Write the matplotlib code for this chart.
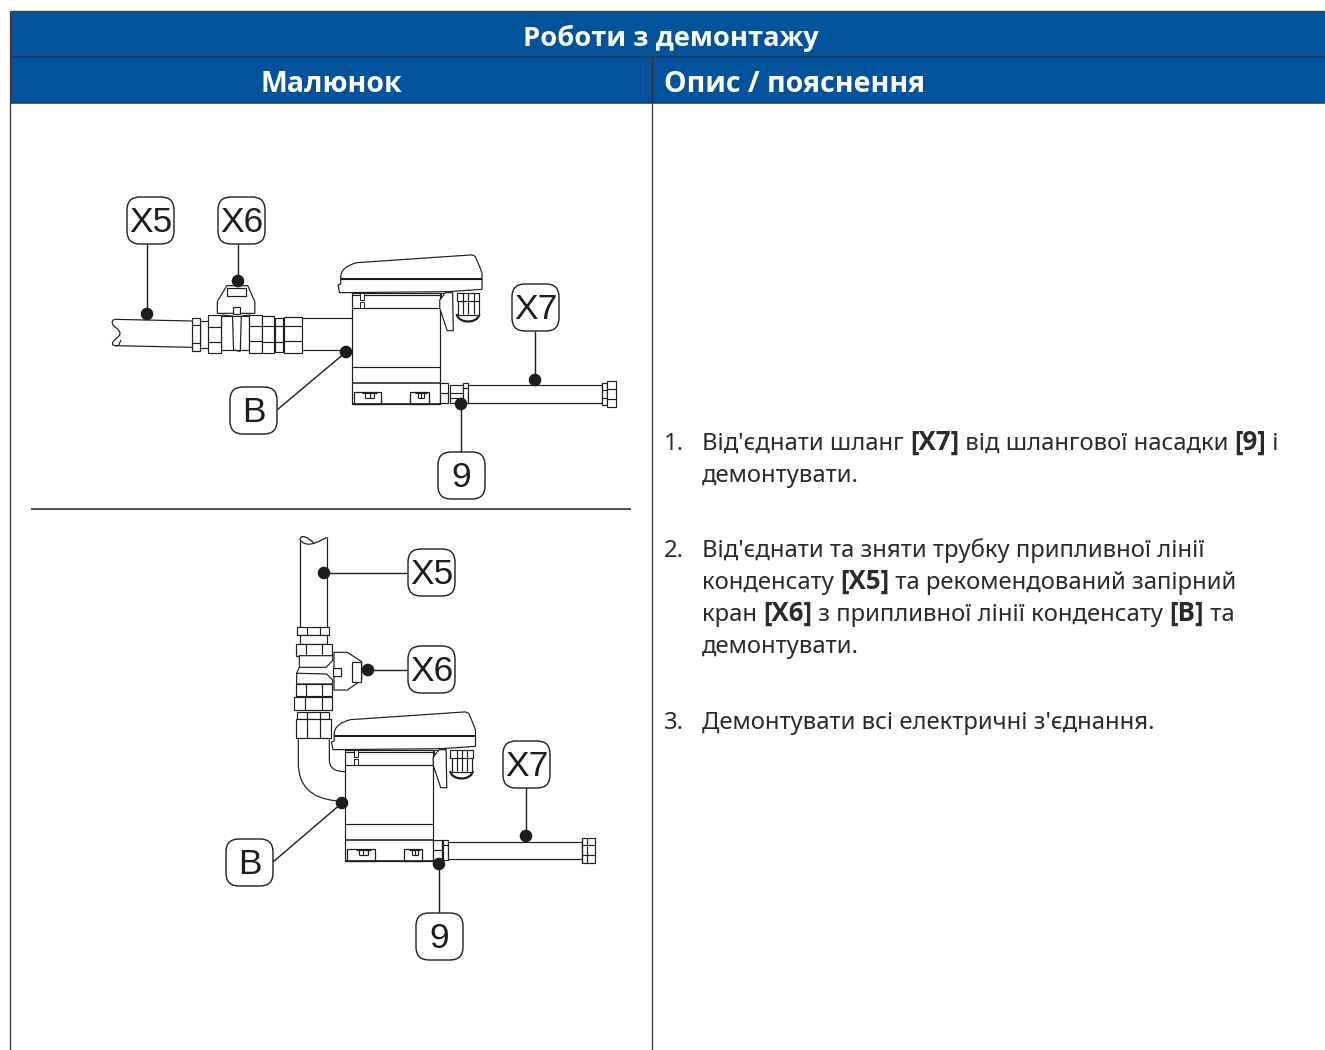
import matplotlib
matplotlib.use("Agg")
import matplotlib.pyplot as plt
from matplotlib import font_manager as fm
from matplotlib.patches import Polygon, Rectangle, FancyBboxPatch, Circle, PathPatch
from matplotlib.path import Path

TITLE = "Роботи з демонтажу"
COL_HEADERS = ["Малюнок", "Опис / пояснення"]
STEPS = [
    ("1.", 450, [("Від'єднати шланг ", 0), ("[X7]", 1), (" від шлангової насадки ", 0), ("[9]", 1), (" і", 0)]),
    (None, 482, [("демонтувати.", 0)]),
    ("2.", 557, [("Від'єднати та зняти трубку припливної лінії", 0)]),
    (None, 589, [("конденсату ", 0), ("[X5]", 1), (" та рекомендований запірний", 0)]),
    (None, 621, [("кран ", 0), ("[X6]", 1), (" з припливної лінії конденсату ", 0), ("[B]", 1), (" та", 0)]),
    (None, 653, [("демонтувати.", 0)]),
    ("3.", 729, [("Демонтувати всі електричні з'єднання.", 0)]),
]
CALLOUTS = [
    ("X5", (150.5, 220.5), (147, 244), (147, 314)),
    ("X6", (241.5, 220.5), (238, 244), (238, 281)),
    ("X7", (535.5, 307.5), (535, 331), (535, 380)),
    ("B", (253.5, 410.5), (277, 410), (346, 352)),
    ("9", (461.5, 475.5), (461, 452), (461, 404)),
    ("X5", (431.5, 572.5), (408, 573), (324, 573)),
    ("X6", (431.5, 669.5), (408, 670), (368, 670)),
    ("X7", (526.5, 764.5), (526, 741), (526, 836)),
    ("B", (249.5, 862.5), (273, 862), (342, 803)),
    ("9", (439.5, 936.5), (439, 913), (439, 864)),
]
BLUE = "#02539B"
NAVY = "#1E3A5F"
INK = "#1d1d1b"
TXT = "#2a2a2a"

BOLD_FONT = "DejaVu Sans"
for name in ["Open Sans", "Lato", "Roboto", "Inter", "Noto Sans", "Liberation Sans"]:
    path = fm.findfont(fm.FontProperties(family=name, weight="bold"), fallback_to_default=True)
    if name.replace(" ", "").lower() in path.replace(" ", "").lower() and "bold" in path.lower():
        BOLD_FONT = name
        break
REG_FONT = "Noto Sans"

fig = plt.figure(figsize=(13.25, 10.5), dpi=100)
ax = fig.add_axes([0, 0, 1, 1])
ax.set_xlim(0, 1325)
ax.set_ylim(1050, 0)
ax.axis("off")
LW = 0.85
M, L, C3, C4 = Path.MOVETO, Path.LINETO, Path.CURVE3, Path.CURVE4


def rect(x0, y0, x1, y1, fc="white", lw=LW, z=3):
    ax.add_patch(Rectangle((x0, y0), x1 - x0, y1 - y0, fc=fc, ec=INK, lw=lw, zorder=z))


def poly(pts, closed=True, fc="white", lw=LW, z=3):
    ax.add_patch(Polygon(pts, closed=closed, fc=fc if closed else "none", ec=INK, lw=lw, zorder=z, joinstyle="round"))


def line(pts, lw=LW, z=3, c=INK):
    ax.plot([p[0] for p in pts], [p[1] for p in pts], color=c, lw=lw, zorder=z, solid_capstyle="butt")


def curve(verts, codes, lw=LW, z=3, fc="none"):
    ax.add_patch(PathPatch(Path(verts, codes), fc=fc, ec=INK, lw=lw, zorder=z))


def z1(x, y):
    return (100 + x / 2.958, 190 + y / 3.0)


def z2(x, y):
    return (210 + x / 3.0, 530 + y / 3.0)


def rz(f, x0, y0, x1, y1, **k):
    a, b = f(x0, y0), f(x1, y1)
    rect(a[0], a[1], b[0], b[1], **k)


def nut_h(f, x0, x1, y0, y1, ya, yb):
    rz(f, x0, y0, x1, y1)
    line([f(x0, ya), f(x1, ya)])
    line([f(x0, yb), f(x1, yb)])


def nut_v(f, x0, x1, y0, y1, xa, xb):
    rz(f, x0, y0, x1, y1)
    line([f(xa, y0), f(xa, y1)])
    line([f(xb, y0), f(xb, y1)])


def device(dx, dy):
    def f(x, y):
        p = z1(x, y)
        return (p[0] + dx, p[1] + dy)
    rz(f, 745, 310, 1005, 643, z=3)
    line([f(745, 315), f(1005, 315)])
    line([f(745, 355), f(1005, 355)])
    line([f(745, 530), f(1005, 530)])
    line([f(745, 580), f(1005, 580)], lw=1.1)
    for x0, x1, y0, y1 in [(770, 782, 310, 330), (770, 782, 337, 353), (1008, 1018, 310, 328), (1008, 1018, 337, 357)]:
        rz(f, x0, y0, x1, y1, lw=0.7)
    poly([f(1005, 355), f(1027, 422), f(1045, 422), f(1043, 308), f(1022, 308), f(1005, 330)], z=4)
    curve([f(1055, 372), f(1060, 402), f(1118, 402), f(1122, 372)], [M, C4, C4, C4], lw=1.6, fc="white")
    rz(f, 1060, 330, 1120, 375, z=3)
    rz(f, 1055, 310, 1122, 332, z=3)
    for x in (1075, 1090, 1105):
        line([f(x, 310), f(x, 372)], z=4)
    curve([f(708, 305), f(704, 285), f(712, 282), f(712, 262), f(712, 230), f(760, 218),
           f(1095, 195), f(1103, 193), f(1110, 200), f(1122, 225), f(1130, 250), f(1130, 265),
           f(1130, 298), f(1030, 305), f(708, 308), f(708, 305)],
          [M, L, L, L, C3, C3, L, C3, C3, C3, C3, C3, L, L, L, L], fc="white", z=5)
    line([f(712, 268), f(1130, 268)], lw=1.5, z=6)
    for x0, x1 in [(750, 832), (918, 972)]:
        rz(f, x0, 605, x1, 643, lw=0.9)
        a = x0 + (x1 - x0) * 0.42
        b = x0 + (x1 - x0) * 0.75
        line([f(a - 8, 610), f(b + 8, 610)])
        for x in (a, (a + b) / 2, b):
            line([f(x, 610), f(x, 625)])
        line([f(a, 625), f(b, 625)])
    line([f(745, 643), f(1005, 643)], lw=1.2, z=4)


# ---------- table frame ----------
ax.add_patch(Rectangle((10, 11), 1315, 92, fc=BLUE, ec="none", zorder=1))
line([(10, 11), (1325, 11)], lw=1.0, c="#444444", z=2)
line([(10, 57), (1325, 57)], lw=1.1, c=NAVY, z=2)
line([(10, 103), (1325, 103)], lw=1.1, c=NAVY, z=2)
line([(10, 11), (10, 1050)], lw=0.9, c="#333333", z=2)
line([(652, 57), (652, 1050)], lw=0.9, c="#333333", z=2)
line([(31, 509), (631, 509)], lw=1.1, c="#222222", z=2)

for x, y, s, ha, size in [(671, 46, TITLE, "center", 19.7), (331, 92, COL_HEADERS[0], "center", 20.5),
                          (664, 92, COL_HEADERS[1], "left", 20.5)]:
    ax.text(x, y, s, ha=ha, va="baseline", color="white", fontsize=size, fontweight="bold", family=BOLD_FONT, zorder=5)

# ---------- body text ----------
renderer = fig.canvas.get_renderer()
BODY = 17.2
BODY_BOLD = 18.6


def fam(b):
    return BOLD_FONT if b else REG_FONT


def size(b):
    return BODY_BOLD if b else BODY


def width(s, bold):
    t = ax.text(0, 0, "|" + s + "|", fontsize=size(bold), fontweight="bold" if bold else "normal", family=fam(bold))
    w = t.get_window_extent(renderer).width
    t.set_text("||")
    w0 = t.get_window_extent(renderer).width
    t.remove()
    return w - w0


for num, base, runs in STEPS:
    if num:
        ax.text(664, base, num, fontsize=BODY, color=TXT, family=REG_FONT, va="baseline", ha="left")
    x = 702
    for s, b in runs:
        ax.text(x, base, s, fontsize=size(b), color=TXT, family=fam(b), va="baseline", ha="left",
                fontweight="bold" if b else "normal")
        x += width(s, b)

# ---------- upper assembly ----------
f = z1
curve([f(42, 388), f(30, 395), f(38, 408), f(50, 415), f(70, 432), f(48, 445), f(38, 455), f(30, 465), f(45, 467), f(55, 467), f(62, 450)],
      [M] + [C4] * 3 + [C3] * 2 + [C4] * 3 + [L, L])
line([f(42, 388), f(272, 393)])
line([f(45, 467), f(272, 472)])
rz(f, 295, 393, 322, 475)
nut_h(f, 272, 295, 383, 482, 405, 460)
rz(f, 357, 378, 440, 480)
nut_h(f, 320, 357, 375, 488, 410, 455)
nut_h(f, 440, 478, 375, 488, 408, 452)
nut_h(f, 478, 515, 377, 490, 408, 455)
nut_h(f, 518, 540, 383, 485, 408, 455)
nut_h(f, 543, 598, 380, 488, 408, 452)
line([f(598, 385), f(745, 385)])
line([f(598, 480), f(745, 480)])
poly([f(347, 370), f(347, 335), f(375, 287), f(437, 287), f(458, 335), f(458, 370)], z=4)
rz(f, 375, 295, 433, 317, z=5)
rz(f, 392, 350, 415, 373, z=5)
poly([f(360, 375), f(392, 378), f(395, 480), f(415, 484), f(418, 378), f(445, 375)], closed=False, z=5)
device(0, 0)
rz(f, 1005, 580, 1030, 640)
line([f(1005, 610), f(1030, 610)])
nut_h(f, 1035, 1075, 585, 640, 610, 625)
rz(f, 1075, 578, 1090, 640)
line([f(1075, 595), f(1090, 595)])
rz(f, 1090, 584, 1485, 638)
nut_h(f, 1485, 1500, 578, 645, 600, 625)
nut_h(f, 1500, 1525, 574, 650, 597, 627)

# ---------- lower assembly ----------
f = z2
line([f(270, 30), f(270, 292)])
line([f(350, 22), f(350, 292)])
curve([f(270, 30), f(272, 10), f(295, 22), f(312, 40), f(338, 30), f(350, 22)], [M, C4, C4, C4, C3, C3], lw=0.9)
curve([f(270, 30), f(285, 48), f(305, 42), f(312, 40)], [M, C4, C4, C4])
nut_v(f, 260, 358, 292, 314, 290, 330)
rz(f, 270, 314, 350, 342)
nut_v(f, 257, 367, 342, 377, 287, 335)
poly([f(268, 377), f(268, 412), f(348, 412), f(368, 392), f(368, 377)], z=3)
poly([f(260, 430), f(260, 462), f(368, 462), f(368, 450), f(350, 432), f(270, 430)], z=3)
line([f(268, 412), f(260, 430)])
nut_v(f, 257, 367, 462, 497, 287, 335)
nut_v(f, 252, 367, 500, 540, 285, 335)
nut_v(f, 260, 358, 545, 567, 290, 330)
nut_v(f, 257, 362, 567, 625, 290, 330)
poly([f(372, 367), f(412, 367), f(455, 395), f(455, 450), f(412, 480), f(372, 480)], z=3)
rz(f, 370, 413, 393, 437, z=4)
rz(f, 427, 397, 452, 455, z=4)
curve([f(265, 628), f(265, 700), f(265, 800), f(375, 812), f(405, 812)], [M, L, C3, C3, L])
curve([f(358, 628), f(358, 690), f(358, 725), f(405, 725)], [M, L, C3, C3])
device(-6.5, 457)
rz(f, 668, 930, 695, 990)
line([f(668, 960), f(695, 960)])
rz(f, 695, 930, 715, 990)
line([f(700, 930), f(700, 990)])
line([f(695, 945), f(715, 945)])
rz(f, 715, 935, 1115, 988)
nut_v(f, 1115, 1155, 925, 998, 1115, 1130)
line([f(1115, 945), f(1155, 945)])
line([f(1115, 975), f(1155, 975)])

# ---------- callouts ----------
for label, (cx, cy), start, dot in CALLOUTS:
    line([start, dot], lw=1.0, z=7)
    ax.add_patch(Circle(dot, 6.3, fc=INK, ec="none", zorder=8))
    hw = 23.5 - 11
    ax.add_patch(FancyBboxPatch((cx - hw, cy - hw), 2 * hw, 2 * hw, boxstyle="round,pad=11,rounding_size=13",
                                fc="white", ec=INK, lw=1.0, zorder=8))
    ax.text(cx, cy + 2, label, ha="center", va="center", fontsize=25.5, family="Liberation Sans", color=INK, zorder=9)

fig.savefig("out.png", dpi=100)
